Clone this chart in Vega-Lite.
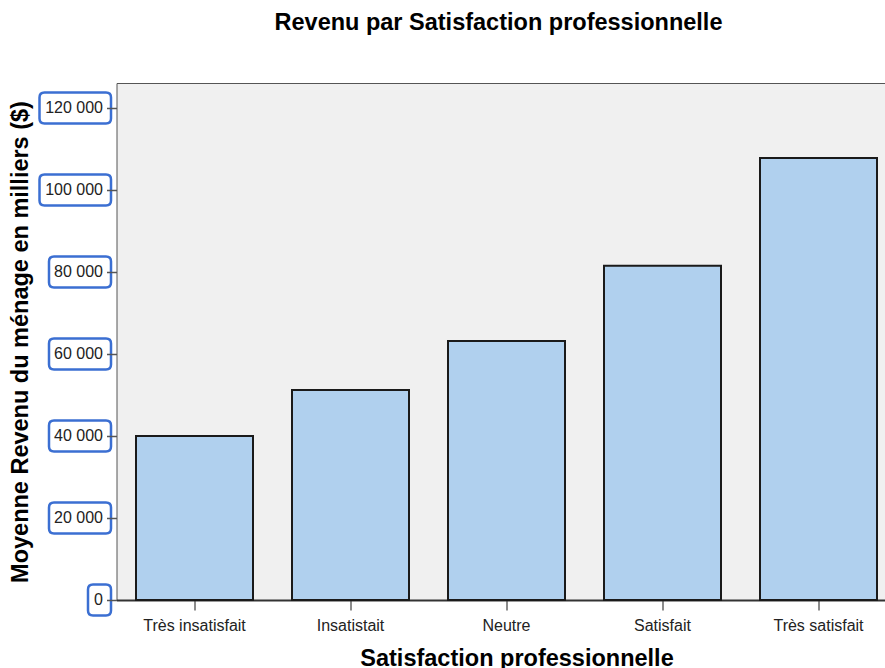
{
  "$schema": "https://vega.github.io/schema/vega-lite/v6.json",
  "padding": {"left": 7.5, "top": 10, "right": 0, "bottom": 0},
  "bounds": "flush",
  "spacing": 0,
  "config": {
    "font": "Liberation Sans",
    "view": {"stroke": null},
    "axis": {"grid": false}
  },
  "datasets": {
    "bars": [
      {"satisfaction": "Très insatisfait", "revenu": 40000},
      {"satisfaction": "Insatistait", "revenu": 51200},
      {"satisfaction": "Neutre", "revenu": 63200},
      {"satisfaction": "Satisfait", "revenu": 81500},
      {"satisfaction": "Très satisfait", "revenu": 107800}
    ],
    "ticks": [
      {"v": 0, "lab": "0"},
      {"v": 20000, "lab": "20 000"},
      {"v": 40000, "lab": "40 000"},
      {"v": 60000, "lab": "60 000"},
      {"v": 80000, "lab": "80 000"},
      {"v": 100000, "lab": "100 000"},
      {"v": 120000, "lab": "120 000"}
    ]
  },
  "hconcat": [
    {
      "width": 77,
      "height": 517,
      "view": {"stroke": null, "fill": null},
      "data": {"name": "ticks"},
      "encoding": {
        "y": {
          "field": "v",
          "type": "quantitative",
          "scale": {"domain": [0, 126100], "nice": false, "zero": true},
          "axis": {
            "title": "Moyenne Revenu du ménage en milliers ($)",
            "titleFontSize": 23.5,
            "titleFontWeight": "bold",
            "titleColor": "#000",
            "titlePadding": 7,
            "labels": false,
            "ticks": false,
            "domain": false,
            "grid": false
          }
        }
      },
      "layer": [
        {
          "mark": {"type": "point", "size": 4, "filled": false, "fill": null, "stroke": "#3b6fd2", "strokeWidth": 2.5, "opacity": 1},
          "encoding": {
            "shape": {
              "field": "lab",
              "type": "nominal",
              "legend": null,
              "scale": {
                "domain": ["0", "20 000", "40 000", "60 000", "80 000", "100 000", "120 000"],
                "range": [
                  "M 15 -15.5 H 28 Q 33 -15.5 33 -10.5 V 10.5 Q 33 15.5 28 15.5 H 15 Q 10 15.5 10 10.5 V -10.5 Q 10 -15.5 15 -15.5 Z",
                  "M -24 -15.5 H 28 Q 33 -15.5 33 -10.5 V 10.5 Q 33 15.5 28 15.5 H -24 Q -29 15.5 -29 10.5 V -10.5 Q -29 -15.5 -24 -15.5 Z",
                  "M -24 -15.5 H 28 Q 33 -15.5 33 -10.5 V 10.5 Q 33 15.5 28 15.5 H -24 Q -29 15.5 -29 10.5 V -10.5 Q -29 -15.5 -24 -15.5 Z",
                  "M -24 -15.5 H 28 Q 33 -15.5 33 -10.5 V 10.5 Q 33 15.5 28 15.5 H -24 Q -29 15.5 -29 10.5 V -10.5 Q -29 -15.5 -24 -15.5 Z",
                  "M -24 -15.5 H 28 Q 33 -15.5 33 -10.5 V 10.5 Q 33 15.5 28 15.5 H -24 Q -29 15.5 -29 10.5 V -10.5 Q -29 -15.5 -24 -15.5 Z",
                  "M -33.5 -15.5 H 28 Q 33 -15.5 33 -10.5 V 10.5 Q 33 15.5 28 15.5 H -33.5 Q -38.5 15.5 -38.5 10.5 V -10.5 Q -38.5 -15.5 -33.5 -15.5 Z",
                  "M -33.5 -15.5 H 28 Q 33 -15.5 33 -10.5 V 10.5 Q 33 15.5 28 15.5 H -33.5 Q -38.5 15.5 -38.5 10.5 V -10.5 Q -38.5 -15.5 -33.5 -15.5 Z"
                ]
              }
            }
          }
        },
        {
          "mark": {"type": "text", "align": "right", "baseline": "middle", "dx": 25, "fontSize": 16, "color": "#222"},
          "encoding": {"text": {"field": "lab", "type": "nominal"}}
        }
      ]
    },
    {
      "width": 780,
      "height": 517,
      "view": {"fill": "#f0f0f0", "stroke": "#555", "strokeWidth": 1},
      "title": {
        "text": "Revenu par Satisfaction professionnelle",
        "fontSize": 23.5,
        "fontWeight": "bold",
        "color": "#000",
        "offset": 49,
        "dx": -8
      },
      "data": {"name": "bars"},
      "mark": {"type": "bar", "fill": "#b0d0ee", "stroke": "#1a1a1a", "strokeWidth": 2},
      "encoding": {
        "x": {
          "field": "satisfaction",
          "type": "nominal",
          "sort": null,
          "scale": {"paddingInner": 0.25, "paddingOuter": 0.125},
          "axis": {
            "labelAngle": 0,
            "labelFontSize": 16,
            "labelColor": "#222",
            "labelPadding": 7,
            "tickSize": 10,
            "tickColor": "#666",
            "tickWidth": 1.5,
            "domainColor": "#333",
            "domainWidth": 2,
            "title": "Satisfaction professionnelle",
            "titleFontSize": 23.5,
            "titleFontWeight": "bold",
            "titleColor": "#000",
            "titlePadding": 13,
            "titleX": 400
          }
        },
        "y": {
          "field": "revenu",
          "type": "quantitative",
          "scale": {"domain": [0, 126100], "nice": false},
          "axis": {
            "title": null,
            "labels": false,
            "domain": false,
            "ticks": true,
            "tickSize": 10,
            "tickColor": "#555",
            "tickWidth": 1.5,
            "values": [0, 20000, 40000, 60000, 80000, 100000, 120000],
            "grid": false
          }
        }
      }
    }
  ]
}
